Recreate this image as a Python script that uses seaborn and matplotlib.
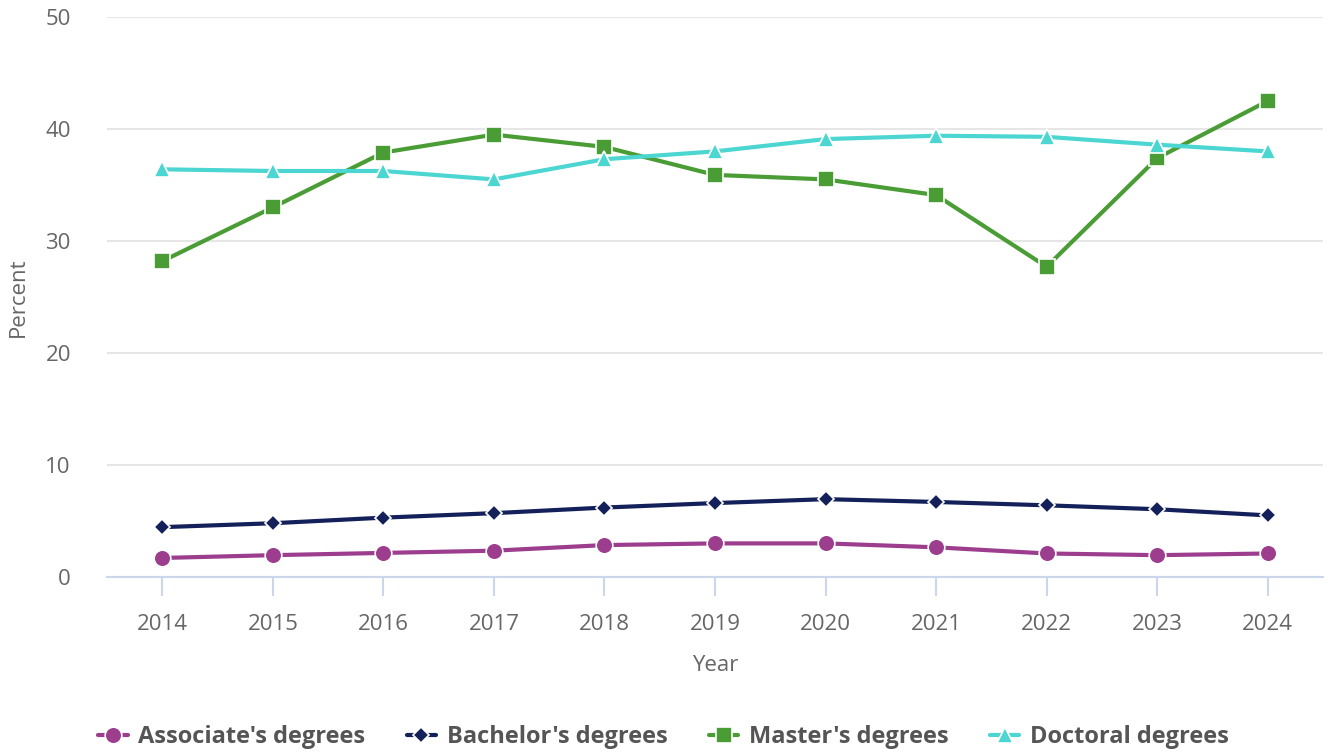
import matplotlib
matplotlib.use("Agg")
import matplotlib.pyplot as plt
import seaborn as sns
import pandas as pd
from matplotlib.lines import Line2D

years = [2014, 2015, 2016, 2017, 2018, 2019, 2020, 2021, 2022, 2023, 2024]
associate = [1.7, 1.95, 2.15, 2.35, 2.85, 3.0, 3.0, 2.65, 2.1, 1.95, 2.1]
bachelor = [4.45, 4.8, 5.3, 5.7, 6.2, 6.6, 6.95, 6.7, 6.4, 6.05, 5.5]
master = [28.2, 33.0, 37.9, 39.5, 38.4, 35.9, 35.5, 34.1, 27.7, 37.4, 42.5]
doctoral = [36.4, 36.25, 36.25, 35.5, 37.3, 38.0, 39.1, 39.4, 39.3, 38.6, 38.0]
series_names = ["Associate's degrees", "Bachelor's degrees", "Master's degrees", "Doctoral degrees"]
colors = ["#9c3d8e", "#14205a", "#4a9c35", "#4cd6d2"]
markers = ["o", "D", "s", "^"]
msizes = [12, 8, 12, 12]

sns.set_theme(style="white")
plt.rcParams['font.family'] = ['Open Sans', 'DejaVu Sans']

rows = []
for name, vals in zip(series_names, [associate, bachelor, master, doctoral]):
    for i, v in enumerate(vals):
        rows.append({"idx": i, "Year": years[i], "value": v, "series": name})
df = pd.DataFrame(rows)

fig = plt.figure(figsize=(13.27, 7.55), dpi=100)
ax = fig.add_axes([107/1327, 1-577/755, (1323-107)/1327, (577-17)/755])

for name, c, m, ms in zip(series_names, colors, markers, msizes):
    sub = df[df["series"] == name]
    sns.lineplot(data=sub, x="idx", y="value", ax=ax, color=c, linewidth=3,
                 marker=m, markersize=ms, markeredgecolor="white",
                 markeredgewidth=1.2, legend=False, zorder=3)

ax.set_xlim(-0.5, len(years) - 0.5)
ax.set_ylim(0, 50)
ax.set_yticks([0, 10, 20, 30, 40, 50])
ax.set_xticks(range(len(years)))
ax.set_xticklabels([str(y) for y in years])
ax.yaxis.grid(True, color="#e6e6e6", linewidth=1.5)
ax.xaxis.grid(False)
for s in ["top", "right", "left"]:
    ax.spines[s].set_visible(False)
ax.spines["bottom"].set_color("#ccd6eb")
ax.spines["bottom"].set_linewidth(1.5)
ax.spines["bottom"].set_zorder(2)
ax.tick_params(axis="x", which="major", length=14, width=1.5, color="#ccd6eb",
               labelsize=16, labelcolor="#666666", pad=13, bottom=True)
ax.tick_params(axis="y", length=0, labelsize=16, labelcolor="#666666", pad=26)
ax.set_xlabel("Year", fontsize=16, color="#666666", labelpad=14)
ax.set_ylabel("Percent", fontsize=16, color="#666666", labelpad=12)

handles = [Line2D([0], [0], color=c, lw=3, marker=m, markersize=ms,
                  markeredgecolor="white", markeredgewidth=1.2)
           for c, m, ms in zip(colors, markers, msizes)]
leg = fig.legend(handles, series_names, loc="center", bbox_to_anchor=(0.5, 1-737/755),
                 ncol=4, frameon=False, handlelength=1.25, handletextpad=0.45,
                 columnspacing=1.75, prop={"size": 17, "weight": "bold"})
for t in leg.get_texts():
    t.set_color("#555555")

fig.savefig("out.png", dpi=100)
